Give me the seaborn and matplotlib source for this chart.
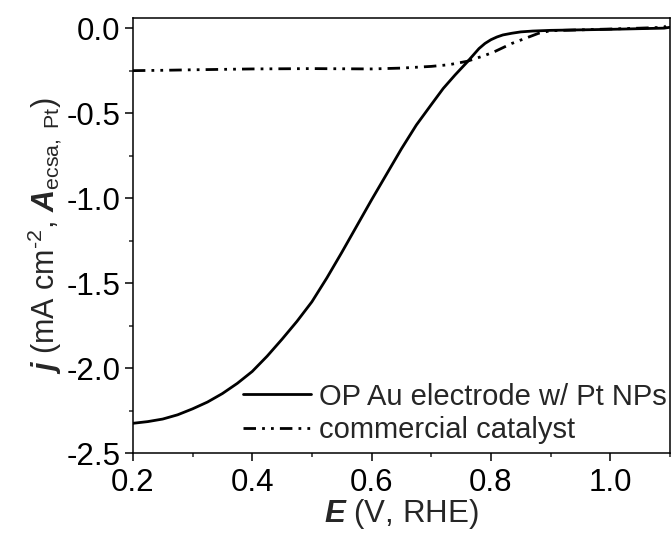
import matplotlib
matplotlib.use("Agg")
import matplotlib.pyplot as plt
import seaborn as sns
import pandas as pd
from matplotlib.ticker import MultipleLocator, FormatStrFormatter

# --- data ---
E_op = [0.20, 0.225, 0.25, 0.275, 0.30, 0.325, 0.35, 0.375, 0.40, 0.425, 0.45, 0.475,
        0.50, 0.525, 0.55, 0.575, 0.60, 0.625, 0.65, 0.675, 0.70, 0.72, 0.74, 0.76,
        0.77, 0.78, 0.79, 0.80, 0.81, 0.82, 0.835, 0.85, 0.87, 0.90, 0.95, 1.00,
        1.05, 1.09, 1.10]
j_op = [-2.325, -2.315, -2.30, -2.275, -2.24, -2.20, -2.15, -2.09, -2.02, -1.93, -1.83, -1.725,
        -1.61, -1.47, -1.32, -1.165, -1.01, -0.86, -0.71, -0.57, -0.45, -0.355, -0.275, -0.20,
        -0.16, -0.12, -0.09, -0.068, -0.052, -0.04, -0.03, -0.022, -0.017, -0.013, -0.01, -0.007,
        -0.003, 0.0, 0.005]

E_cc = [0.20, 0.25, 0.30, 0.40, 0.50, 0.60, 0.65, 0.70, 0.73, 0.76, 0.775, 0.79,
        0.805, 0.82, 0.835, 0.85, 0.865, 0.88, 0.90, 0.95, 1.00, 1.05, 1.09, 1.10]
j_cc = [-0.25, -0.248, -0.245, -0.24, -0.238, -0.24, -0.235, -0.225, -0.215, -0.195, -0.178, -0.16,
        -0.14, -0.115, -0.09, -0.07, -0.05, -0.03, -0.015, -0.01, -0.005, 0.0, 0.005, 0.03]

labels = ["OP Au electrode w/ Pt NPs", "commercial catalyst"]

df = pd.concat([
    pd.DataFrame({"E": E_op, "j": j_op, "sample": labels[0]}),
    pd.DataFrame({"E": E_cc, "j": j_cc, "sample": labels[1]}),
])

sns.set_style("ticks")
plt.rcParams["font.family"] = ["Liberation Sans", "DejaVu Sans"]
plt.rcParams["axes.unicode_minus"] = False
plt.rcParams["mathtext.fontset"] = "custom"
plt.rcParams["mathtext.rm"] = "Liberation Sans"
plt.rcParams["mathtext.it"] = "Liberation Sans:italic"
plt.rcParams["mathtext.bf"] = "Liberation Sans:bold"
plt.rcParams["mathtext.bfit"] = "Liberation Sans:italic:bold"

fig = plt.figure(figsize=(6.71, 5.33), dpi=100)
ax = fig.add_axes([0.198, 0.150, 0.8005, 0.816])

sns.lineplot(data=df, x="E", y="j", style="sample", ax=ax, color="black",
             linewidth=2.0, sort=False, estimator=None,
             dashes={labels[0]: "", labels[1]: (4.5, 2.2, 1.0, 2.2, 1.0, 2.2)})

ax.set_xlim(0.2, 1.1)
ax.set_ylim(-2.5, 0.059)
ax.xaxis.set_major_locator(MultipleLocator(0.2))
ax.xaxis.set_minor_locator(MultipleLocator(0.1))
ax.yaxis.set_major_locator(MultipleLocator(0.5))
ax.yaxis.set_minor_locator(MultipleLocator(0.25))
ax.xaxis.set_major_formatter(FormatStrFormatter("%.1f"))
ax.yaxis.set_major_formatter(FormatStrFormatter("%.1f"))

ax.tick_params(which="major", direction="out", length=6, width=1.1, labelsize=22.5,
               top=False, right=False, colors="black")
ax.tick_params(axis="x", which="major", pad=5)
ax.tick_params(axis="y", which="major", pad=3)
ax.tick_params(which="minor", direction="out", length=3, width=1.1, top=False, right=False)
for s in ax.spines.values():
    s.set_visible(True)
    s.set_linewidth(1.1)
    s.set_color("black")

ax.set_xlabel(r"$\mathbfit{E}$ (V, RHE)", fontsize=22.5, labelpad=-1)
ax.set_ylabel(r"$\mathbfit{j}$ (mA cm$^{\text{-2}}$, $\mathbfit{A}_{\mathrm{ecsa,\ Pt}}$)",
              fontsize=22, labelpad=2)

leg = ax.legend(loc="lower right", bbox_to_anchor=(1.0, 0.014), frameon=False, fontsize=21,
                handlelength=2.3, handletextpad=0.3, borderaxespad=0.0, borderpad=0.1,
                labelspacing=0.19)
for h in leg.get_lines():
    h.set_color("black")
    h.set_linewidth(2.0)

fig.savefig("out.png", dpi=100)
